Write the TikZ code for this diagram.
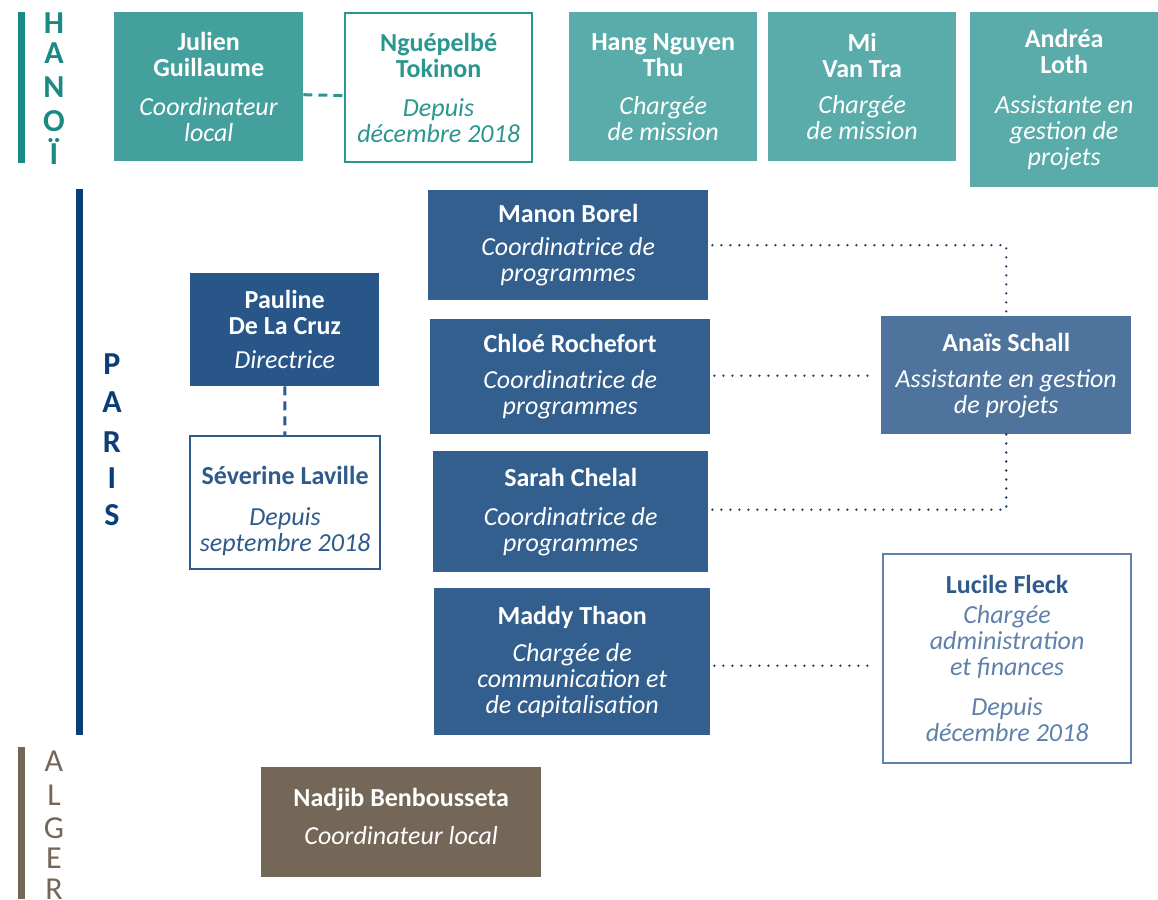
\documentclass[tikz,border=0pt]{standalone}
\usepackage{fontspec}
\setmainfont{Carlito}
\usetikzlibrary{positioning}

\definecolor{hanoibar}{HTML}{1B8A84}
\definecolor{hanoidark}{HTML}{44A09D}
\definecolor{hanoiline}{HTML}{2A9690}
\definecolor{hanoilight}{HTML}{5AACAB}
\definecolor{parisbar}{HTML}{0B3D78}
\definecolor{parisdir}{HTML}{285689}
\definecolor{parisbox}{HTML}{335F8F}
\definecolor{parislight}{HTML}{4E739C}
\definecolor{parisline}{HTML}{2F5B8C}
\definecolor{parisfaint}{HTML}{5F81AA}
\definecolor{dotcol}{HTML}{23406A}
\definecolor{algercol}{HTML}{756757}

\begin{document}
\begin{tikzpicture}[x=1pt, y=-1pt,
    box/.style={rectangle, anchor=north west, align=center, inner sep=2pt,
        text=white, font=\fontsize{26}{26}\selectfont},
    openbox/.style={box, draw, line width=2.2pt, fill=white},
    letter/.style={font=\fontsize{32}{32}\selectfont},
    dots/.style={dotcol, line width=2.6pt, line cap=round, dash pattern=on 0pt off 9pt}]
    \useasboundingbox (0,0) rectangle (1158,899);

    % Hanoi
    \draw[hanoibar, line width=7pt] (21,12) -- (21,163);
    \foreach \l/\y in {H/23,A/53,N/87,O/121,Ï/151}
        \node[letter, text=hanoibar, font=\fontsize{32}{32}\selectfont\bfseries] at (54,\y) {\l};

    \node[box, fill=hanoidark, minimum width=189pt, minimum height=149pt] (julien) at (114,12)
        {\textbf{Julien}\\\textbf{Guillaume}\\[13pt]\textit{Coordinateur}\\\textit{local}};
    \node[openbox, draw=hanoiline, text=hanoiline, minimum width=187pt, minimum height=149pt] (ngue) at (344,12)
        {\textbf{Nguépelbé}\\\textbf{Tokinon}\\[13pt]\textit{Depuis}\\\textit{décembre 2018}};
    \node[box, fill=hanoilight, minimum width=188pt, minimum height=149pt] (hang) at (569,12)
        {\textbf{Hang Nguyen}\\\textbf{Thu}\\[12pt]\textit{Chargée}\\\textit{de mission}};
    \node[box, fill=hanoilight, minimum width=188pt, minimum height=149pt] (mi) at (768,12)
        {\textbf{Mi}\\\textbf{Van Tra}\\[10pt]\textit{Chargée}\\\textit{de mission}};
    \node[box, fill=hanoilight, minimum width=188pt, minimum height=175pt] (andrea) at (970,12)
        {\textbf{Andréa}\\\textbf{Loth}\\[14pt]\textit{Assistante en}\\\textit{gestion de}\\\textit{projets}};

    \draw[hanoiline, line width=3pt, dash pattern=on 9pt off 6pt] ([yshift=-8pt]julien.east) -- ([yshift=-8pt]ngue.west);

    % Paris
    \draw[parisbar, line width=7pt] (79,189) -- (79,735);
    \foreach \l/\y in {P/364,A/402,R/442,I/478,S/515}
        \node[letter, text=parisbar, font=\fontsize{32}{32}\selectfont\bfseries] at (112,\y) {\l};

    \node[box, fill=parisdir, minimum width=189pt, minimum height=113pt] (pauline) at (190,273)
        {\textbf{Pauline}\\\textbf{De La Cruz}\\[8pt]\textit{Directrice}};
    \node[openbox, draw=parisline, text=parisline, minimum width=190pt, minimum height=133pt] (severine) at (189,435)
        {\mbox{}\\[8pt]\textbf{Séverine Laville}\\[15pt]\textit{Depuis}\\\textit{septembre 2018}};
    \node[box, fill=parisbox, minimum width=280pt, minimum height=110pt] (manon) at (428,190)
        {\textbf{Manon Borel}\\[7pt]\textit{Coordinatrice de}\\\textit{programmes}};
    \node[box, fill=parisbox, minimum width=280pt, minimum height=115pt] (chloe) at (430,319)
        {\textbf{Chloé Rochefort}\\[10pt]\textit{Coordinatrice de}\\\textit{programmes}};
    \node[box, fill=parisbox, minimum width=275pt, minimum height=121pt] (sarah) at (433,451)
        {\textbf{Sarah Chelal}\\[13pt]\textit{Coordinatrice de}\\\textit{programmes}};
    \node[box, fill=parisbox, minimum width=276pt, minimum height=147pt] (maddy) at (434,588)
        {\textbf{Maddy Thaon}\\[11pt]\textit{Chargée de}\\\textit{communication et}\\\textit{de capitalisation}};
    \node[box, fill=parislight, minimum width=250pt, minimum height=118pt] (anais) at (881,316)
        {\textbf{Anaïs Schall}\\[10pt]\textit{Assistante en gestion}\\\textit{de projets}};
    \node[openbox, draw=parisfaint, text=parisfaint, minimum width=248pt, minimum height=209pt] (lucile) at (882,553)
        {\textcolor{parisline}{\textbf{Lucile Fleck}}\\[4pt]\textit{Chargée}\\\textit{administration}\\\textit{et finances}\\[14pt]\textit{Depuis}\\\textit{décembre 2018}};

    \draw[parisline, line width=3pt, dash pattern=on 9pt off 6pt] (pauline) -- (severine);

    \draw[dots] ([xshift=4pt]manon.east) -| (anais.north);
    \draw[dots] ([xshift=4pt,yshift=1pt]chloe.east) -- ([xshift=-6pt,yshift=1pt]chloe.east -| anais.west);
    \draw[dots] ([xshift=4pt,yshift=2pt]sarah.east) -| (anais.south);
    \draw[dots] ([xshift=4pt,yshift=-4pt]maddy.east) -- ([xshift=-10pt,yshift=-4pt]maddy.east -| lucile.west);

    % Alger
    \draw[algercol, line width=7pt] (21,747) -- (21,899);
    \foreach \l/\y in {A/761,L/795,G/828,E/858,R/889}
        \node[letter, text=algercol] at (54,\y) {\l};

    \node[box, fill=algercol, minimum width=280pt, minimum height=110pt] (nadjib) at (261,767)
        {\textbf{Nadjib Benbousseta}\\[12pt]\textit{Coordinateur local}\\[-14pt]\mbox{}};
\end{tikzpicture}
\end{document}
